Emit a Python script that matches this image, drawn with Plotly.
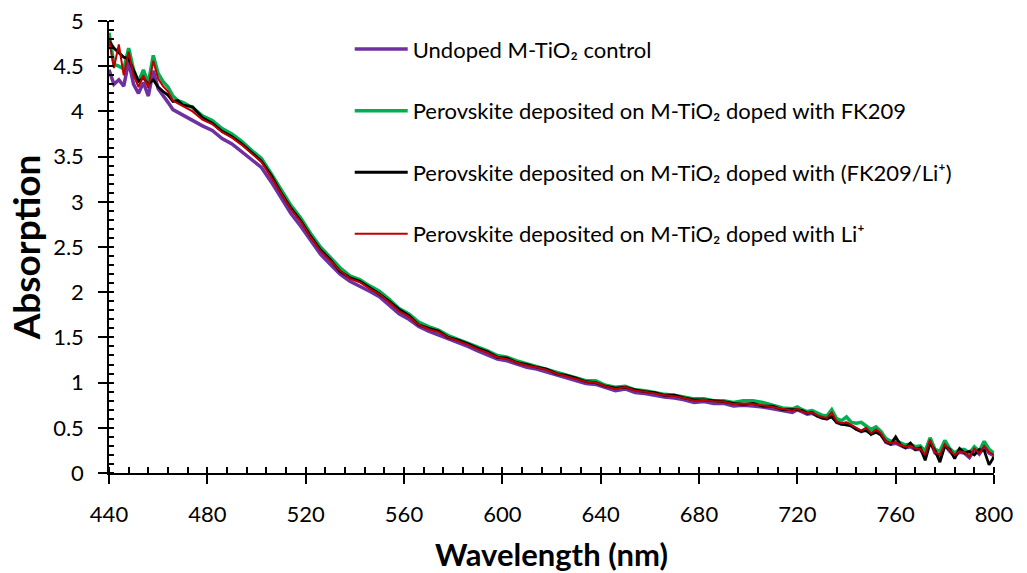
import plotly.graph_objects as go

# Sampling grid of the spectra (nm)
wavelength = list(range(440, 471, 2)) + list(range(474, 719, 4)) + list(range(720, 801, 2))

undoped = [
    4.46, 4.30, 4.35, 4.28, 4.55, 4.30, 4.20, 4.32, 4.17, 4.45, 4.25, 4.18, 4.10, 4.02, 3.99, 3.95,
    3.90, 3.84, 3.79, 3.70, 3.64, 3.55, 3.46, 3.38, 3.22, 3.04, 2.87, 2.73, 2.57, 2.42, 2.31,
    2.20, 2.12, 2.07, 2.01, 1.95, 1.86, 1.76, 1.70, 1.62, 1.57, 1.53, 1.48, 1.44, 1.40, 1.35,
    1.31, 1.26, 1.24, 1.20, 1.17, 1.15, 1.12, 1.08, 1.05, 1.02, 0.99, 0.98, 0.94, 0.91, 0.93,
    0.89, 0.88, 0.86, 0.84, 0.83, 0.81, 0.78, 0.79, 0.77, 0.77, 0.74, 0.75, 0.74, 0.73, 0.71,
    0.69, 0.67,
    0.70, 0.67, 0.65, 0.66, 0.63, 0.61, 0.60, 0.65, 0.56, 0.54, 0.55, 0.52, 0.49, 0.46, 0.49,
    0.43, 0.47, 0.43, 0.34, 0.32, 0.33, 0.30, 0.28, 0.29, 0.26, 0.26, 0.19, 0.36, 0.22, 0.19,
    0.31, 0.24, 0.19, 0.23, 0.22, 0.17, 0.26, 0.21, 0.29, 0.22, 0.19,
]

fk209 = [
    4.87, 4.52, 4.50, 4.47, 4.70, 4.46, 4.33, 4.46, 4.31, 4.62, 4.42, 4.33, 4.27, 4.17, 4.12, 4.10,
    4.04, 3.95, 3.90, 3.81, 3.75, 3.67, 3.57, 3.48, 3.31, 3.13, 2.96, 2.82, 2.65, 2.50, 2.38,
    2.27, 2.18, 2.14, 2.07, 2.01, 1.92, 1.82, 1.76, 1.67, 1.62, 1.58, 1.52, 1.48, 1.44, 1.39,
    1.35, 1.30, 1.28, 1.24, 1.21, 1.18, 1.15, 1.12, 1.08, 1.05, 1.02, 1.02, 0.97, 0.95, 0.96,
    0.92, 0.91, 0.89, 0.87, 0.86, 0.84, 0.82, 0.82, 0.80, 0.80, 0.78, 0.80, 0.80, 0.78, 0.75,
    0.72, 0.71,
    0.73, 0.70, 0.68, 0.69, 0.66, 0.64, 0.63, 0.70, 0.60, 0.58, 0.62, 0.56, 0.55, 0.56, 0.52,
    0.48, 0.51, 0.46, 0.38, 0.35, 0.36, 0.33, 0.31, 0.32, 0.29, 0.30, 0.24, 0.39, 0.26, 0.24,
    0.36, 0.27, 0.22, 0.26, 0.26, 0.22, 0.29, 0.24, 0.35, 0.26, 0.22,
]

fk209_li = [
    4.78, 4.70, 4.65, 4.60, 4.58, 4.45, 4.33, 4.37, 4.30, 4.35, 4.27, 4.22, 4.18, 4.11, 4.12, 4.07,
    4.05, 3.93, 3.87, 3.78, 3.72, 3.64, 3.55, 3.45, 3.29, 3.10, 2.93, 2.79, 2.62, 2.47, 2.36,
    2.23, 2.16, 2.12, 2.05, 1.98, 1.90, 1.81, 1.74, 1.64, 1.60, 1.57, 1.50, 1.47, 1.43, 1.38,
    1.34, 1.28, 1.27, 1.22, 1.20, 1.17, 1.15, 1.10, 1.08, 1.05, 1.01, 1.00, 0.96, 0.94, 0.95,
    0.92, 0.90, 0.89, 0.86, 0.86, 0.83, 0.81, 0.81, 0.80, 0.79, 0.77, 0.76, 0.77, 0.74, 0.74,
    0.70, 0.70,
    0.70, 0.69, 0.66, 0.67, 0.63, 0.61, 0.60, 0.62, 0.56, 0.54, 0.53, 0.52, 0.48, 0.46, 0.47,
    0.43, 0.45, 0.42, 0.35, 0.32, 0.40, 0.31, 0.28, 0.33, 0.26, 0.28, 0.14, 0.33, 0.25, 0.12,
    0.30, 0.26, 0.16, 0.27, 0.22, 0.24, 0.20, 0.26, 0.25, 0.09, 0.18,
]

li = [
    4.80, 4.48, 4.74, 4.40, 4.66, 4.40, 4.27, 4.40, 4.26, 4.56, 4.36, 4.28, 4.22, 4.12, 4.09, 4.06,
    4.00, 3.91, 3.86, 3.77, 3.71, 3.63, 3.53, 3.44, 3.27, 3.09, 2.92, 2.78, 2.61, 2.46, 2.35,
    2.24, 2.15, 2.11, 2.04, 1.98, 1.89, 1.79, 1.73, 1.64, 1.59, 1.56, 1.50, 1.46, 1.42, 1.37,
    1.33, 1.28, 1.26, 1.22, 1.19, 1.17, 1.14, 1.10, 1.07, 1.04, 1.01, 1.00, 0.96, 0.93, 0.95,
    0.91, 0.90, 0.88, 0.86, 0.85, 0.83, 0.80, 0.81, 0.79, 0.79, 0.76, 0.77, 0.76, 0.75, 0.73,
    0.71, 0.69,
    0.71, 0.68, 0.66, 0.67, 0.64, 0.62, 0.61, 0.67, 0.57, 0.55, 0.56, 0.53, 0.50, 0.47, 0.50,
    0.44, 0.48, 0.44, 0.35, 0.33, 0.34, 0.31, 0.29, 0.30, 0.27, 0.27, 0.20, 0.37, 0.23, 0.20,
    0.32, 0.25, 0.20, 0.24, 0.23, 0.18, 0.27, 0.22, 0.30, 0.23, 0.20,
]

series_names = [
    "Undoped M-TiO₂ control",
    "Perovskite deposited on M-TiO₂ doped with FK209",
    "Perovskite deposited on M-TiO₂ doped with (FK209/Li⁺)",
    "Perovskite deposited on M-TiO₂ doped with Li⁺",
]
series_values = [undoped, fk209, fk209_li, li]
series_colors = ["#7030A0", "#00B050", "#000000", "#C00000"]
series_widths = [3.5, 3.5, 2.8, 2.0]

FONT = "Lato"

fig = go.Figure()
for i, (name, vals, col, w) in enumerate(zip(series_names, series_values, series_colors, series_widths)):
    fig.add_trace(go.Scatter(
        x=wavelength, y=vals, mode="lines", name=name,
        line=dict(color=col, width=w),
        legendgroup=f"g{i}",
    ))

# empty trace holding the overlay axes (inner half of the crossing major ticks)
fig.add_trace(go.Scatter(x=[None], y=[None], xaxis="x2", yaxis="y2", mode="lines",
                         showlegend=False, hoverinfo="skip"))

axis_common = dict(showgrid=False, zeroline=False, showline=True, linecolor="black",
                   linewidth=1.5, tickcolor="black", tickwidth=1.5, automargin=False,
                   tickfont=dict(family=FONT, size=22, color="black"))

fig.update_layout(
    width=1027, height=573,
    margin=dict(l=109, r=33, t=21, b=100, autoexpand=False),
    paper_bgcolor="white", plot_bgcolor="white",
    font=dict(family=FONT, color="black"),
    showlegend=True,
    legend=dict(
        x=0.272, y=0.984, xanchor="left", yanchor="top",
        bgcolor="rgba(0,0,0,0)", font=dict(family=FONT, size=22, color="black"),
        tracegroupgap=30, itemwidth=53,
    ),
    xaxis=dict(
        range=[440, 800], tickmode="linear", tick0=440, dtick=40,
        ticks="outside", ticklen=9, ticklabelstandoff=12,
        minor=dict(tickmode="linear", tick0=440, dtick=8, ticks="inside", ticklen=6,
                   tickcolor="black", tickwidth=1.5),
        title=dict(text="<b>Wavelength (nm)</b>", font=dict(family=FONT, size=31, color="black"), standoff=18),
        **axis_common,
    ),
    yaxis=dict(
        range=[0, 5], tickmode="linear", tick0=0, dtick=0.5,
        ticks="outside", ticklen=9, ticklabelstandoff=10,
        minor=dict(tickmode="linear", tick0=0, dtick=0.1, ticks="inside", ticklen=5,
                   tickcolor="black", tickwidth=1.5),
        title=dict(text="<b>Absorption</b>", font=dict(family=FONT, size=37, color="black"), standoff=1),
        **axis_common,
    ),
    xaxis2=dict(range=[440, 800], overlaying="x", anchor="y2", showgrid=False, zeroline=False,
                showline=False, tickmode="linear", tick0=440, dtick=40, ticks="inside", ticklen=6,
                tickcolor="black", tickwidth=1.5, showticklabels=False, side="bottom", automargin=False),
    yaxis2=dict(range=[0, 5], overlaying="y", anchor="x2", showgrid=False, zeroline=False,
                showline=False, tickmode="linear", tick0=0, dtick=0.5, ticks="inside", ticklen=5,
                tickcolor="black", tickwidth=1.5, showticklabels=False, side="left", automargin=False),
)

fig.write_html("out.html")
